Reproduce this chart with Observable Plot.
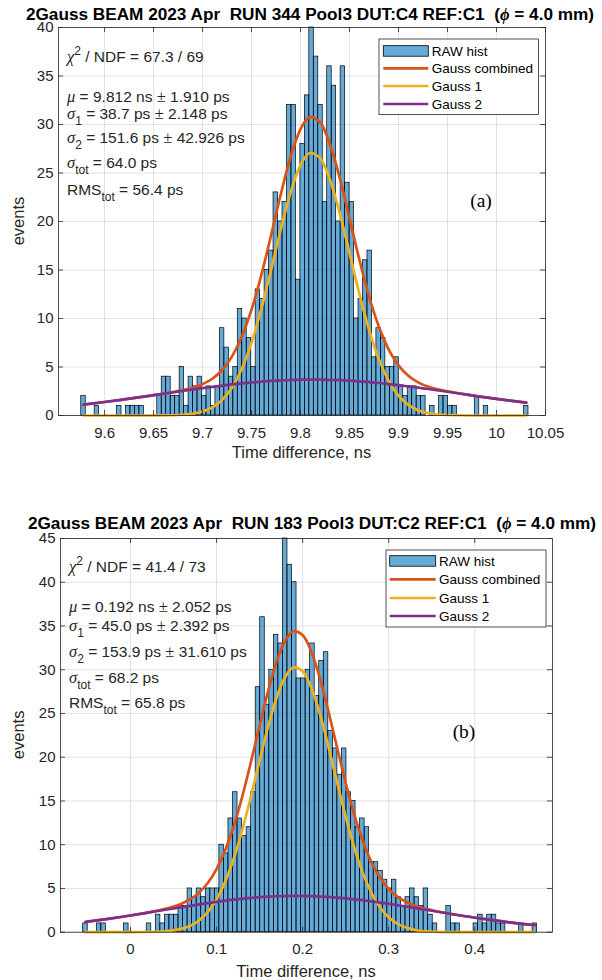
<!DOCTYPE html>
<html><head><meta charset="utf-8">
<script src="https://cdn.jsdelivr.net/npm/d3@7"></script>
<script src="https://cdn.jsdelivr.net/npm/@observablehq/plot@0.6"></script>
<style>
body{margin:0;background:#fff;}
#wrap{position:relative;width:602px;height:980px;overflow:hidden;background:#fff;}
#wrap svg{position:absolute;left:0;}
</style></head><body><div id="wrap"></div>
<script>
// ---------- Panel (a) data ----------
const titleA = ["2Gauss BEAM 2023 Apr  RUN 344 Pool3 DUT:C4 REF:C1  (", "ϕ", " = 4.0 mm)"];
const binStartA = 9.57622, binWidthA = 0.004564;
const countsA = [2,0,0,1,0,0,0,0,1,0, 1,1,1,1,0,0,0,2,4,4,
  2,2,5,1,4,3,4,2,3,1, 3,9,7,4,5,11,10,8,5,13,
  12,15,17,23,20,22,32,32,14,28, 33,40,37,32,22,36,34,20,36,24,
  22,10,12,16,17,6,9,8,5,5, 6,3,2,3,3,2,2,0,1,0,
  2,2,1,1,0,0,0,0,2,0, 1,0,0,0,0,0,0,0,0,1];
const fitXA = [9.5785,9.60,9.62,9.64,9.66,9.68,9.70,9.71,9.72,9.73,9.74,9.75,9.76,9.77,9.78,9.79,9.80,9.81,9.82,9.83,9.84,9.85,9.86,9.87,9.88,9.89,9.90,9.91,9.92,9.93,9.95,9.97,10.00,10.0304];
const combA = [1.13,1.39,1.66,1.94,2.25,2.61,3.23,3.79,4.69,6.07,8.11,10.91,14.48,18.60,22.87,26.72,29.52,30.76,30.23,27.99,24.50,20.33,16.08,12.25,9.14,6.79,5.17,4.10,3.42,2.99,2.50,2.15,1.71,1.32];
const gauss1A = [0,0,0,0,0.01,0.08,0.41,0.84,1.61,2.87,4.80,7.51,10.99,15.04,19.25,23.06,25.83,27.06,26.53,24.32,20.86,16.74,12.56,8.81,5.79,3.55,2.04,1.10,0.55,0.26,0.05,0,0,0];
const gauss2A = [1.13,1.39,1.66,1.94,2.24,2.53,2.82,2.95,3.08,3.20,3.31,3.40,3.49,3.56,3.62,3.66,3.69,3.70,3.70,3.67,3.64,3.59,3.52,3.44,3.35,3.24,3.13,3.00,2.87,2.73,2.45,2.15,1.71,1.32];
const xTicksA = [9.6,9.65,9.7,9.75,9.8,9.85,9.9,9.95,10,10.05];
const yTicksA = [0,5,10,15,20,25,30,35,40];
const statsA = ["67.3 / 69","9.812","1.910","38.7","2.148","151.6","42.926","64.0","56.4"];

// ---------- Panel (b) data ----------
const titleB = ["2Gauss BEAM 2023 Apr  RUN 183 Pool3 DUT:C2 REF:C1  (", "ϕ", " = 4.0 mm)"];
const binStartB = -0.05495, binWidthB = 0.005274;
const countsB = [1,0,0,1,1,0,0,0,0,1, 0,0,0,0,1,0,2,1,2,2,
  2,3,3,5,4,5,4,5,5,5, 10,9,13,16,13,11,12,16,28,36,
  26,30,34,33,45,42,40,29,29,30, 33,27,31,32,23,21,18,21,16,15,
  12,13,12,8,8,7,6,5,6,4, 3,4,5,4,3,5,2,1,0,0,
  3,1,1,0,0,0,1,2,1,2, 2,1,1,0,0,0,1,0,0,1];
const fitXB = [-0.0525,-0.03,0,0.03,0.06,0.08,0.09,0.10,0.11,0.12,0.13,0.14,0.15,0.16,0.17,0.18,0.19,0.20,0.21,0.22,0.23,0.24,0.25,0.26,0.27,0.28,0.29,0.30,0.31,0.32,0.33,0.35,0.38,0.41,0.44,0.4695];
const combB = [1.17,1.47,1.91,2.44,3.28,4.55,5.65,7.22,9.36,12.14,15.56,19.47,23.60,27.60,31.00,33.37,34.42,33.96,32.09,29.05,25.24,21.11,17.08,13.43,10.40,8.00,6.22,4.94,4.06,3.47,3.05,2.51,1.97,1.52,1.13,0.82];
const gauss1B = [0,0,0,0.05,0.41,1.37,2.32,3.75,5.76,8.42,11.73,15.55,19.60,23.54,26.89,29.23,30.27,29.82,27.97,24.97,21.21,17.16,13.21,9.67,6.75,4.48,2.83,1.70,0.97,0.53,0.27,0.06,0,0,0,0];
const gauss2B = [1.17,1.47,1.91,2.39,2.87,3.18,3.33,3.47,3.60,3.72,3.83,3.92,4.00,4.06,4.11,4.14,4.15,4.14,4.12,4.08,4.03,3.95,3.87,3.76,3.65,3.52,3.39,3.24,3.09,2.94,2.78,2.45,1.97,1.52,1.13,0.82];
const xTicksB = [0,0.1,0.2,0.3,0.4];
const yTicksB = [0,5,10,15,20,25,30,35,40,45];
const statsB = ["41.4 / 73","0.192","2.052","45.0","2.392","153.9","31.610","68.2","65.8"];

const legendLabels = ["RAW hist","Gauss combined","Gauss 1","Gauss 2"];
const xLabel = "Time difference, ns";
const yLabel = "events";

// ---------- styles ----------
const SANS = "'Liberation Sans', Arial, Helvetica, sans-serif";
const SERIF = "'Liberation Serif', 'Times New Roman', serif";
const AX = "#262626";
const BAR = "#0072BD", C_COMB = "#D95319", C_G1 = "#EDB120", C_G2 = "#7E2F8E";
const LW = 2.7;

function addText(s, x, y, parts, opt = {}) {
  const t = s.append("text").attr("x", x).attr("y", y)
    .attr("fill", opt.fill || AX)
    .attr("text-anchor", opt.anchor || "start")
    .style("font-family", opt.family || SANS)
    .style("font-size", (opt.size || 15.5) + "px")
    .style("white-space", "pre");
  if (opt.weight) t.style("font-weight", opt.weight);
  if (opt.transform) t.attr("transform", opt.transform);
  let cur = 0;
  for (const [str, kind] of parts) {
    const ts = t.append("tspan").text(str);
    if (kind === "g") ts.style("font-family", SERIF).style("font-style", "italic").style("font-size", "16.5px");
    if (kind === "pm") ts.style("font-family", SERIF).style("font-size", "16.5px");
    let target = 0;
    if (kind === "sub") { target = 5.8; ts.style("font-size", "12px"); }
    else if (kind === "sup") { target = -7.2; ts.style("font-size", "12px"); }
    if (target !== cur) ts.attr("dy", target - cur);
    cur = target;
  }
  return t;
}

function panel(p) {
  const W = 602, H = p.H;
  const fw = W - p.ml - p.mr, fh = H - p.mt - p.mb;
  const bins = p.counts.map((c, i) => ({x1: p.binStart + i * p.binWidth, x2: p.binStart + (i + 1) * p.binWidth, c})).filter(d => d.c > 0);
  const pts = ys => p.fitX.map((x, i) => ({x, y: ys[i]}));
  const tl = 5;
  const fmt = d => String(d);
  const svg = Plot.plot({
    width: W, height: H,
    marginLeft: p.ml, marginRight: p.mr, marginTop: p.mt, marginBottom: p.mb,
    style: {fontFamily: SANS, fontSize: "15px", color: AX, background: "transparent", overflow: "visible"},
    x: {domain: p.xDomain, label: null},
    y: {domain: p.yDomain, label: null},
    marks: [
      Plot.gridX(p.xTicks, {stroke: AX, strokeOpacity: 0.13, strokeWidth: 1}),
      Plot.gridY(p.yTicks, {stroke: AX, strokeOpacity: 0.13, strokeWidth: 1}),
      Plot.rectY(bins, {x1: "x1", x2: "x2", y: "c", fill: BAR, fillOpacity: 0.6, stroke: "#000", strokeWidth: 0.7}),
      Plot.line(pts(p.comb), {x: "x", y: "y", stroke: C_COMB, strokeWidth: LW, curve: "monotone-x"}),
      Plot.line(pts(p.g1), {x: "x", y: "y", stroke: C_G1, strokeWidth: LW, curve: "monotone-x"}),
      Plot.line(pts(p.g2), {x: "x", y: "y", stroke: C_G2, strokeWidth: LW, curve: "monotone-x"}),
      Plot.ruleX(p.xTicks, {x: d => d, stroke: AX, strokeWidth: 0.8, insetTop: fh - tl}),
      Plot.ruleX(p.xTicks, {x: d => d, stroke: AX, strokeWidth: 0.8, insetBottom: fh - tl}),
      Plot.ruleY(p.yTicks, {y: d => d, stroke: AX, strokeWidth: 0.8, insetRight: fw - tl}),
      Plot.ruleY(p.yTicks, {y: d => d, stroke: AX, strokeWidth: 0.8, insetLeft: fw - tl}),
      Plot.frame({stroke: AX, strokeWidth: 0.8}),
      Plot.axisX(p.xTicks, {tickSize: 0, tickPadding: 11.6, fontSize: 15, tickFormat: fmt, label: null, fill: AX}),
      Plot.axisY(p.yTicks, {tickSize: 0, tickPadding: 5, fontSize: 15, tickFormat: fmt, label: null, fill: AX})
    ]
  });
  svg.style.top = p.top + "px";
  const s = d3.select(svg);
  addText(s, p.titleX, p.titleY, [[p.title[0], "n"], [p.title[1], "g"], [p.title[2], "n"]],
    {anchor: "middle", weight: "bold", size: p.titleSize, fill: "#000"});
  const st = p.stats, sx = p.statX, b = p.statY;
  addText(s, sx, b[0], [["χ", "g"], ["2", "sup"], [" / NDF = " + st[0], "n"]]);
  addText(s, sx, b[1], [["μ", "g"], [" = " + st[1] + " ns ", "n"], ["±", "pm"], [" " + st[2] + " ps", "n"]]);
  addText(s, sx, b[2], [["σ", "g"], ["1", "sub"], [" = " + st[3] + " ps ", "n"], ["±", "pm"], [" " + st[4] + " ps", "n"]]);
  addText(s, sx, b[3], [["σ", "g"], ["2", "sub"], [" = " + st[5] + " ps ", "n"], ["±", "pm"], [" " + st[6] + " ps", "n"]]);
  addText(s, sx, b[4], [["σ", "g"], ["tot", "sub"], [" = " + st[7] + " ps", "n"]]);
  addText(s, sx, b[5], [["RMS", "n"], ["tot", "sub"], [" = " + st[8] + " ps", "n"]]);
  addText(s, p.tagX, p.tagY, [[p.tag, "n"]], {anchor: "middle", family: SERIF, size: 19.5, fill: "#000"});
  addText(s, p.xLabX, p.xLabY, [[xLabel, "n"]], {anchor: "middle", size: 16.5});
  addText(s, 0, 0, [[yLabel, "n"]], {anchor: "middle", size: 16.5, transform: `translate(${p.yLabX},${p.yLabY}) rotate(-90)`});
  const L = p.leg;
  s.append("rect").attr("x", L.x0).attr("y", L.y0).attr("width", L.x1 - L.x0).attr("height", L.y1 - L.y0)
    .attr("fill", "#fff").attr("stroke", AX).attr("stroke-width", 0.8);
  s.append("rect").attr("x", L.sx0).attr("y", L.rows[0] - 5).attr("width", L.sx1 - L.sx0).attr("height", 10.5)
    .attr("fill", BAR).attr("fill-opacity", 0.6).attr("stroke", "#000").attr("stroke-width", 0.8);
  [C_COMB, C_G1, C_G2].forEach((c, i) => {
    s.append("line").attr("x1", L.sx0).attr("x2", L.sx1).attr("y1", L.rows[i + 1]).attr("y2", L.rows[i + 1])
      .attr("stroke", c).attr("stroke-width", LW);
  });
  legendLabels.forEach((lab, i) => addText(s, L.tx, L.rows[i] + 4.8, [[lab, "n"]], {size: 13.5, fill: "#000"}));
  return svg;
}

const wrap = document.getElementById("wrap");
wrap.appendChild(panel({
  top: 0, H: 480, ml: 58, mr: 57, mt: 27, mb: 65,
  xDomain: [9.553, 10.05], yDomain: [0, 40], xTicks: xTicksA, yTicks: yTicksA,
  counts: countsA, binStart: binStartA, binWidth: binWidthA,
  fitX: fitXA, comb: combA, g1: gauss1A, g2: gauss2A,
  title: titleA, titleX: 310, titleY: 19.8, titleSize: 17.2,
  stats: statsA, statX: 67, statY: [61.7, 101.7, 119.3, 142.7, 168.3, 195],
  tag: "(a)", tagX: 481, tagY: 206.5,
  xLabX: 301.5, xLabY: 458.3, yLabX: 24, yLabY: 221,
  leg: {x0: 379, x1: 538.5, y0: 39, y1: 114.5, sx0: 383.3, sx1: 428.3, tx: 431.7, rows: [50.7, 68.3, 86, 104]}
}));
wrap.appendChild(panel({
  top: 480, H: 500, ml: 60, mr: 50, mt: 58, mb: 48.3,
  xDomain: [-0.0813, 0.4903], yDomain: [0, 45], xTicks: xTicksB, yTicks: yTicksB,
  counts: countsB, binStart: binStartB, binWidth: binWidthB,
  fitX: fitXB, comb: combB, g1: gauss1B, g2: gauss2B,
  title: titleB, titleX: 312, titleY: 49.2, titleSize: 17.2,
  stats: statsB, statX: 69, statY: [91.7, 131.7, 151, 176.7, 203.3, 228.3],
  tag: "(b)", tagX: 464, tagY: 257.7,
  xLabX: 306, xLabY: 496.5, yLabX: 24, yLabY: 254.9,
  leg: {x0: 386, x1: 546, y0: 70, y1: 147, sx0: 389.7, sx1: 435.7, tx: 439, rows: [80.7, 99.3, 118, 136]}
}));
</script>
</body></html>
